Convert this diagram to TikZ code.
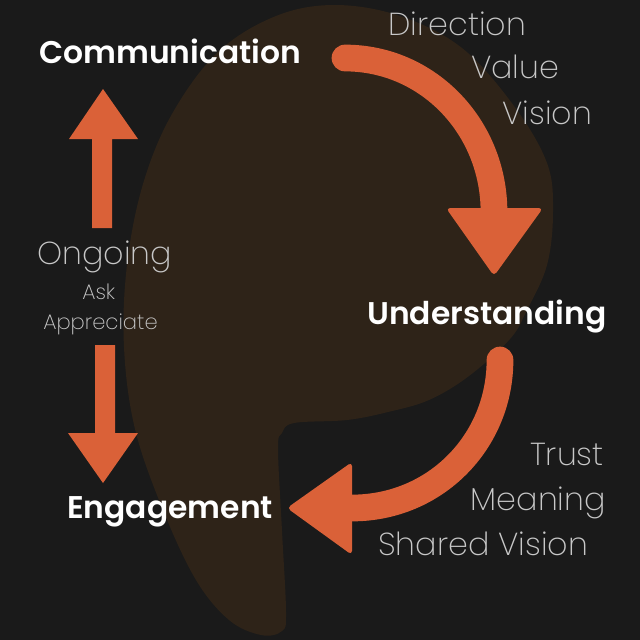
\documentclass[tikz,border=0pt]{standalone}
\usepackage{fontspec}
\setmainfont{Poppins}
\newfontfamily\lightf{Poppins ExtraLight}
\newfontfamily\semif{Poppins SemiBold}
\definecolor{bg}{HTML}{1A1A1A}
\definecolor{brownish}{HTML}{2E2318}
\definecolor{orng}{HTML}{DA6138}
\definecolor{greytext}{HTML}{C8C8C8}
\begin{document}
\begin{tikzpicture}[x=0.025cm,y=-0.025cm,
  boldlbl/.style={text=white,font=\semif\fontsize{22.3}{26}\selectfont,inner sep=0pt},
  lightlbl/.style={text=greytext,font=\lightf\fontsize{22.6}{26}\selectfont,inner sep=0pt},
  smalllbl/.style={text=greytext,font=\lightf\fontsize{15}{18}\selectfont,inner sep=0pt},
  headfill/.style={fill=orng,rounded corners=3pt},
  shaft/.style={draw=orng,line width=19pt,line cap=round},
  straightarrow/.style={fill=orng}]
\useasboundingbox (0,0) rectangle (640,640);
\fill[bg] (0,0) rectangle (640,640);
% brown bubble
\fill[brownish] plot[smooth cycle,tension=0.6] coordinates {
 (547,163) (553,212) (547,265) (527,310) (510,339) (469,376) (429,400) (388,412)
 (347,420) (294,423) (282,433) (278,449) (282,531) (286,612) (282,631) (261,635)
 (229,620) (196,580) (163,510) (135,429) (124,347) (127,265) (143,184) (172,114)
 (218,52) (276,16) (335,5) (400,16) (462,48) (514,106)};
% curved arrow 1
\coordinate (a1s) at (345,58);
\coordinate (a1e) at (494,212);
\draw[shaft] (a1s) .. controls (428,58) and (494,127) .. (a1e);
\fill[headfill] (446,208) -- (543,208) -- (494,276) -- cycle;
% curved arrow 2
\coordinate (a2s) at (500,360);
\coordinate (a2e) at (352,508);
\draw[shaft] (a2s) .. controls (500,442) and (435,508) .. (a2e);
\fill[headfill] (352,462) -- (352,555) -- (287,508) -- cycle;
% straight arrows
\fill[straightarrow] (92,228) -- (92,139) -- (69,139) -- (103,89) -- (138,139) -- (112,139) -- (112,228) -- cycle;
\fill[straightarrow] (95,345) -- (115,345) -- (115,433) -- (138,433) -- (103,483) -- (68,433) -- (95,433) -- cycle;
% labels
\node[boldlbl,anchor=base west] (comm) at (39,63) {Communication};
\node[boldlbl,anchor=base west] (und) at (367,324) {Understanding};
\node[boldlbl,anchor=base west] (eng) at (67,518) {Engagement};
\node[lightlbl,anchor=base west] (dir) at (388,35) {Direction};
\node[lightlbl,anchor=base west] (val) at (471,78) {Value};
\node[lightlbl,anchor=base west] (vis) at (502,124) {Vision};
\node[lightlbl,anchor=base west] (ong) at (37,264) {Ongoing};
\node[smalllbl,anchor=base west] (ask) at (82,299) {Ask};
\node[smalllbl,anchor=base west] (app) at (43,329) {Appreciate};
\node[lightlbl,anchor=base east] (tru) at (604,465) {Trust};
\node[lightlbl,anchor=base east] (mea) at (606,510) {Meaning};
\node[lightlbl,anchor=base west] (shv) at (378,555) {Shared Vision};
\end{tikzpicture}
\end{document}
